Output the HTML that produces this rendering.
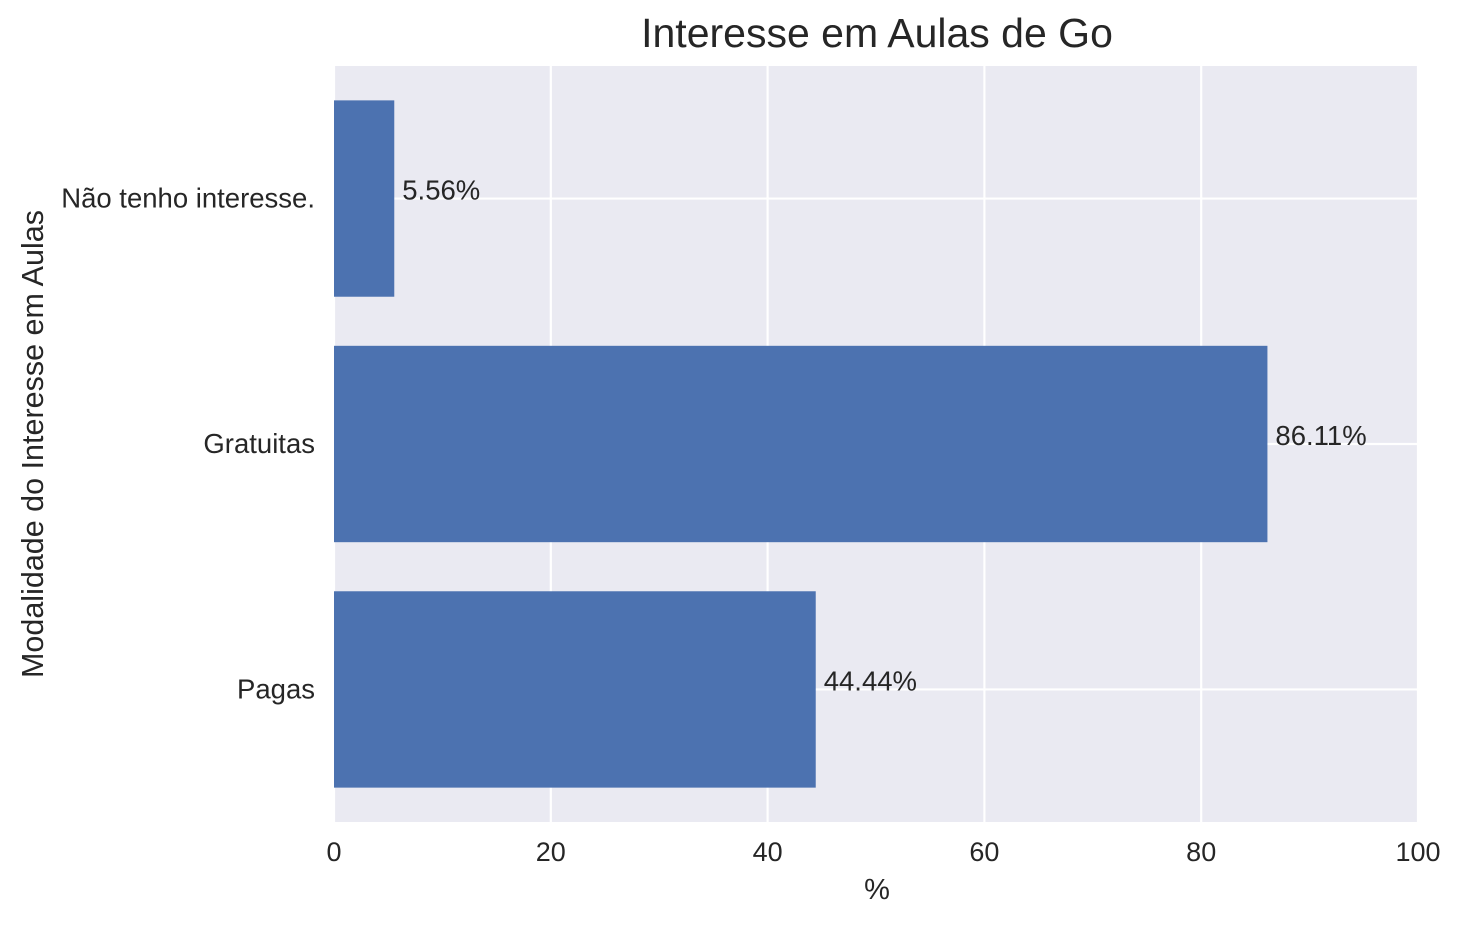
<!DOCTYPE html>
<html><head><meta charset="utf-8"><style>
body{margin:0;background:#fff;}
svg text{font-family:"Liberation Sans","DejaVu Sans",sans-serif;fill:#262626;}
</style></head><body>
<svg id="chart" width="1462" height="926" xmlns="http://www.w3.org/2000/svg">
<text x="877" y="47" font-size="41" text-anchor="middle">Interesse em Aulas de Go</text>
<rect x="334" y="66" width="1084" height="756" fill="#EAEAF2"/>
<g id="grid"></g><g id="bars"></g><g id="labels"></g><g id="ticks"></g>
<text x="877" y="899" font-size="29" text-anchor="middle">%</text>
<text transform="translate(43,444) rotate(-90)" font-size="30.5" text-anchor="middle">Modalidade do Interesse em Aulas</text>
</svg>
<script>
const categories=["Pagas","Gratuitas","Não tenho interesse."];
const values=[44.44,86.11,5.56];
const valueLabels=["44.44%","86.11%","5.56%"];
const xTicks=[0,20,40,60,80,100];
const NS="http://www.w3.org/2000/svg";
const L=334,R=1418,T=66,B=822;
const x=v=>L+(v/100)*(R-L);
const yMin=-0.54,yMax=2.54;
const y=v=>B-(v-yMin)/(yMax-yMin)*(B-T);
function mk(t,a,p){const e=document.createElementNS(NS,t);for(const k in a)e.setAttribute(k,a[k]);p.appendChild(e);return e;}
const grid=document.getElementById('grid'),bars=document.getElementById('bars'),labels=document.getElementById('labels'),ticks=document.getElementById('ticks');
xTicks.forEach(t=>{
 const g=mk('line',{x1:x(t),x2:x(t),y1:T,y2:B,stroke:'#fff','stroke-width':2.2},grid);
 
 
 const tx=mk('text',{x:x(t),y:861,'font-size':27,'text-anchor':'middle'},ticks);tx.textContent=t;
 
 
});
categories.forEach((c,i)=>{
 const g=mk('line',{x1:L,x2:R,y1:y(i),y2:y(i),stroke:'#fff','stroke-width':2.2},grid);
 
 
 const r=mk('rect',{x:L,y:y(i+0.4),width:x(values[i])-L,height:y(i-0.4)-y(i+0.4),fill:'#4C72B0'},bars);
 
 
 const lb=mk('text',{x:x(values[i])+8,y:y(i)+1,'font-size':27.5},labels);lb.textContent=valueLabels[i];
 
 
 const tl=mk('text',{x:315,y:y(i)+9,'font-size':27.5,'text-anchor':'end'},ticks);tl.textContent=c;
 
 
});
</script>
</body></html>
